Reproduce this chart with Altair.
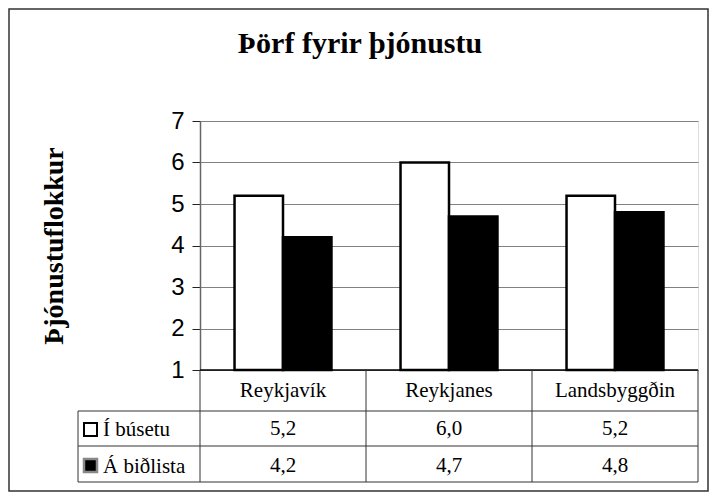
import altair as alt
import pandas as pd

categories = ["Reykjavík", "Reykjanes", "Landsbyggðin"]
series = ["Í búsetu", "Á biðlista"]
busetu = [5.2, 6.0, 5.2]
bidlista = [4.2, 4.7, 4.8]
y_ticks = [1, 2, 3, 4, 5, 6, 7]
title_text = "Þörf fyrir þjónustu"
y_title = "Þjónustuflokkur"

rows = []
for i, c in enumerate(categories):
    rows.append({"cat": c, "series": series[0], "value": busetu[i]})
    rows.append({"cat": c, "series": series[1], "value": bidlista[i]})
df = pd.DataFrame(rows)
one = pd.DataFrame({"a": [0]})

W, H = 498, 249
SERIF = "Liberation Serif"
SANS = "Liberation Sans"

xscale = alt.Scale(domain=categories, paddingInner=0.416, paddingOuter=0.208)
yscale = alt.Scale(domain=[1, 7], nice=False, zero=False)
xenc = alt.X("cat:N", scale=xscale, axis=None, sort=categories)

bars = alt.Chart(df).mark_bar(stroke="black", strokeWidth=2.5).encode(
    x=xenc,
    xOffset=alt.XOffset("series:N", sort=series, scale=alt.Scale(domain=series)),
    y=alt.Y("value:Q", scale=yscale,
            axis=alt.Axis(values=y_ticks, title=None, grid=True, gridColor="#808080",
                          gridWidth=1, tickSize=8, tickColor="#222", domainColor="#666",
                          domainWidth=1.5, labelFont=SANS, labelFontSize=24,
                          labelColor="black", labelPadding=8)),
    y2=alt.datum(1),
    fill=alt.Fill("series:N", scale=alt.Scale(domain=series, range=["white", "black"]), legend=None),
)


def rule(x, x2, y, y2=None, color="#333", width=1):
    enc = dict(x=alt.value(x), x2=alt.value(x2), y=alt.value(y))
    if y2 is not None:
        enc["y2"] = alt.value(y2)
    return alt.Chart(one).mark_rule(color=color, strokeWidth=width).encode(**enc)


def box(x, x2, y, y2, fill, stroke, sw):
    return alt.Chart(one).mark_rect(fill=fill, stroke=stroke, strokeWidth=sw).encode(
        x=alt.value(x), x2=alt.value(x2), y=alt.value(y), y2=alt.value(y2))


border = alt.Chart(one).mark_rect(fill="transparent", stroke="#333", strokeWidth=1.5).encode(
    x=alt.value(-191), x2=alt.value(508), y=alt.value(-112), y2=alt.value(370))

title = alt.Chart(one).mark_text(text=title_text, font=SERIF, fontSize=30, fontWeight="bold",
                                 align="center", baseline="alphabetic", color="black").encode(
    x=alt.value(160), y=alt.value(-68))

ytitle = alt.Chart(one).mark_text(text=y_title, font=SERIF, fontSize=28, fontWeight="bold",
                                  angle=270, align="center", baseline="middle", color="black").encode(
    x=alt.value(-145), y=alt.value(125))

# table lines
lines = [
    rule(0, W, H, color="black", width=1.5),
    rule(-122, W, 290),
    rule(-122, W, 325),
    rule(-122, W, 361),
    rule(0, 0, H, 361),
    rule(166, 166, H, 361),
    rule(332, 332, H, 361),
    rule(W, W, H, 361),
    rule(-122, -122, 290, 361),
]

header = alt.Chart(pd.DataFrame({"cat": categories})).mark_text(
    font=SERIF, fontSize=21, color="black", baseline="middle").encode(
    x=xenc, text="cat:N", y=alt.value(270))

vals = alt.Chart(df).transform_calculate(
    lbl="replace(format(datum.value, '.1f'), '.', ',')"
)
row1 = vals.transform_filter(alt.datum.series == series[0]).mark_text(
    font=SERIF, fontSize=21, color="black", baseline="middle").encode(
    x=xenc, text="lbl:N", y=alt.value(308))
row2 = vals.transform_filter(alt.datum.series == series[1]).mark_text(
    font=SERIF, fontSize=21, color="black", baseline="middle").encode(
    x=xenc, text="lbl:N", y=alt.value(345))

lab1 = alt.Chart(one).mark_text(text=series[0], font=SERIF, fontSize=21, color="black",
                                align="left", baseline="middle").encode(
    x=alt.value(-97), y=alt.value(309))
lab2 = alt.Chart(one).mark_text(text=series[1], font=SERIF, fontSize=21, color="black",
                                align="left", baseline="middle").encode(
    x=alt.value(-97), y=alt.value(346))
sw1 = box(-116, -103, 302, 315, "white", "black", 2)
sw2 = box(-116, -103, 338, 351, "black", "#888", 2.5)

chart = alt.layer(border, bars, *lines, title, ytitle, header, row1, row2, lab1, lab2, sw1, sw2).properties(
    width=W, height=H,
    autosize=alt.AutoSizeParams(type="none"),
    padding={"left": 192, "top": 113, "right": 11, "bottom": 122},
).configure_view(stroke="#808080", strokeWidth=2).configure(background="white")

chart.save("out.html", embed_options={"renderer": "svg", "actions": False})
